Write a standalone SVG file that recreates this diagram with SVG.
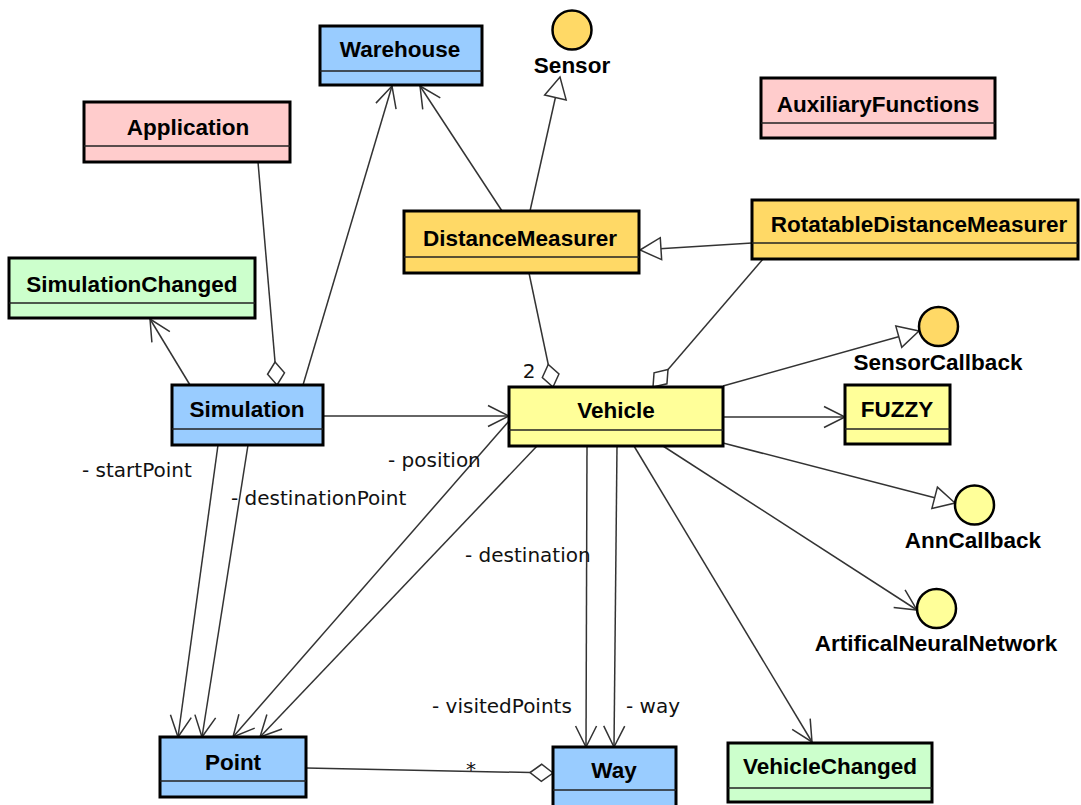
<svg xmlns="http://www.w3.org/2000/svg" width="1081" height="805" viewBox="0 0 1081 805">
<style>
.box{stroke:#000;stroke-width:3}
.div{stroke:#222;stroke-width:1.5}
.name{font-family:"Liberation Sans",Arial,sans-serif;font-weight:bold;font-size:22.5px;fill:#000;text-anchor:middle}
.lbl{font-family:"DejaVu Sans",sans-serif;font-size:20px;fill:#111}
.c{fill:none;stroke:#333;stroke-width:1.5}
.blue{fill:#99CCFF}.pink{fill:#FFCCCC}.green{fill:#CCFFCC}.yellow{fill:#FFFF99}.orange{fill:#FFD966}
.iface{stroke:#000;stroke-width:2.5}
</style>
<defs>
<marker id="arrow" markerUnits="userSpaceOnUse" markerWidth="30" markerHeight="30" viewBox="-25 -15 30 30" refX="0" refY="0" orient="auto">
<path d="M-21,-10.5 L0,0 L-21,10.5" fill="none" stroke="#333" stroke-width="1.5"/>
</marker>
<marker id="tri" markerUnits="userSpaceOnUse" markerWidth="30" markerHeight="30" viewBox="-25 -15 30 30" refX="0" refY="0" orient="auto">
<path d="M-21,-11 L0,0 L-21,11 Z" fill="#fff" stroke="#333" stroke-width="1.5"/>
</marker>
<marker id="dia" markerUnits="userSpaceOnUse" markerWidth="30" markerHeight="30" viewBox="-27 -15 30 30" refX="0" refY="0" orient="auto">
<path d="M0,0 L-11.5,-8.5 L-23,0 L-11.5,8.5 Z" fill="#fff" stroke="#333" stroke-width="1.5"/>
</marker>
</defs>
<rect width="1081" height="805" fill="#fff"/>

<g id="connectors">
<path class="c" d="M190,385 L150,319" marker-end="url(#arrow)"/>
<path class="c" d="M258,162 L277,385" marker-end="url(#dia)"/>
<path class="c" d="M303,385 L392,86" marker-end="url(#arrow)"/>
<path class="c" d="M502,211 L420,86" marker-end="url(#arrow)"/>
<path class="c" d="M530,211 L560,77" marker-end="url(#tri)"/>
<path class="c" d="M752,243 L640,250" marker-end="url(#tri)"/>
<path class="c" d="M529,273 L553,387" marker-end="url(#dia)"/>
<path class="c" d="M763,259 L653,387" marker-end="url(#dia)"/>
<path class="c" d="M323,416 L509,416" marker-end="url(#arrow)"/>
<path class="c" d="M723,386 L919,331" marker-end="url(#tri)"/>
<path class="c" d="M723,417 L845,417" marker-end="url(#arrow)"/>
<path class="c" d="M723,443 L955,503" marker-end="url(#tri)"/>
<path class="c" d="M663,446 L917,610" marker-end="url(#arrow)"/>
<path class="c" d="M634,446 L812,742" marker-end="url(#arrow)"/>
<path class="c" d="M587,446 L586,747" marker-end="url(#arrow)"/>
<path class="c" d="M617,446 L614,747" marker-end="url(#arrow)"/>
<path class="c" d="M218,445 L178,737" marker-end="url(#arrow)"/>
<path class="c" d="M248,445 L202,737" marker-end="url(#arrow)"/>
<path class="c" d="M509,421 L233,737" marker-end="url(#arrow)"/>
<path class="c" d="M537,446 L260,737" marker-end="url(#arrow)"/>
<path class="c" d="M306,768 L553,773" marker-end="url(#dia)"/>
<text class="lbl" x="82" y="477">- startPoint</text>
<text class="lbl" x="231" y="505">- destinationPoint</text>
<text class="lbl" x="388" y="467">- position</text>
<text class="lbl" x="465" y="562">- destination</text>
<text class="lbl" x="432" y="713">- visitedPoints</text>
<text class="lbl" x="626" y="713">- way</text>
<text class="lbl" x="471" y="776" text-anchor="middle">*</text>
<text class="lbl" x="529" y="378" text-anchor="middle">2</text>
</g>

<g id="Warehouse">
<rect class="box blue" x="320" y="26" width="162" height="59"/>
<line class="div" x1="320" y1="71" x2="482" y2="71"/>
<text class="name" x="400" y="57">Warehouse</text>
</g>
<g id="Application">
<rect class="box pink" x="84" y="102" width="206" height="60"/>
<line class="div" x1="84" y1="146" x2="290" y2="146"/>
<text class="name" x="188" y="135">Application</text>
</g>
<g id="SimulationChanged">
<rect class="box green" x="9" y="258" width="246" height="60"/>
<line class="div" x1="9" y1="303" x2="255" y2="303"/>
<text class="name" x="132" y="292">SimulationChanged</text>
</g>
<g id="Sensor">
<circle class="iface orange" cx="572" cy="30" r="19.5"/>
<text class="name" x="572" y="73">Sensor</text>
</g>
<g id="DistanceMeasurer">
<rect class="box orange" x="404" y="211" width="235" height="62"/>
<line class="div" x1="404" y1="257" x2="639" y2="257"/>
<text class="name" x="520" y="246">DistanceMeasurer</text>
</g>
<g id="AuxiliaryFunctions">
<rect class="box pink" x="761" y="78" width="234" height="60"/>
<line class="div" x1="761" y1="123" x2="995" y2="123"/>
<text class="name" x="878" y="112">AuxiliaryFunctions</text>
</g>
<g id="RotatableDistanceMeasurer">
<rect class="box orange" x="752" y="200" width="326" height="59"/>
<line class="div" x1="752" y1="243" x2="1078" y2="243"/>
<text class="name" x="919" y="232">RotatableDistanceMeasurer</text>
</g>
<g id="SensorCallback">
<circle class="iface orange" cx="938.5" cy="326.5" r="19.5"/>
<text class="name" x="938" y="370">SensorCallback</text>
</g>
<g id="Simulation">
<rect class="box blue" x="172" y="385" width="151" height="60"/>
<line class="div" x1="172" y1="429" x2="323" y2="429"/>
<text class="name" x="247" y="417">Simulation</text>
</g>
<g id="Vehicle">
<rect class="box yellow" x="509" y="387" width="214" height="59"/>
<line class="div" x1="509" y1="430" x2="723" y2="430"/>
<text class="name" x="616" y="418">Vehicle</text>
</g>
<g id="FUZZY">
<rect class="box yellow" x="845" y="385" width="105" height="59"/>
<line class="div" x1="845" y1="429" x2="950" y2="429"/>
<text class="name" x="897" y="417">FUZZY</text>
</g>
<g id="AnnCallback">
<circle class="iface yellow" cx="974.5" cy="505" r="19.5"/>
<text class="name" x="973" y="548">AnnCallback</text>
</g>
<g id="ArtificalNeuralNetwork">
<circle class="iface yellow" cx="936.5" cy="608.5" r="19.5"/>
<text class="name" x="936" y="651">ArtificalNeuralNetwork</text>
</g>
<g id="Point">
<rect class="box blue" x="160" y="737" width="146" height="60"/>
<line class="div" x1="160" y1="781" x2="306" y2="781"/>
<text class="name" x="233" y="770">Point</text>
</g>
<g id="Way">
<rect class="box blue" x="553" y="747" width="123" height="60"/>
<line class="div" x1="553" y1="790" x2="676" y2="790"/>
<text class="name" x="614" y="778">Way</text>
</g>
<g id="VehicleChanged">
<rect class="box green" x="728" y="743" width="204" height="59"/>
<line class="div" x1="728" y1="788" x2="932" y2="788"/>
<text class="name" x="830" y="774">VehicleChanged</text>
</g>
</svg>
